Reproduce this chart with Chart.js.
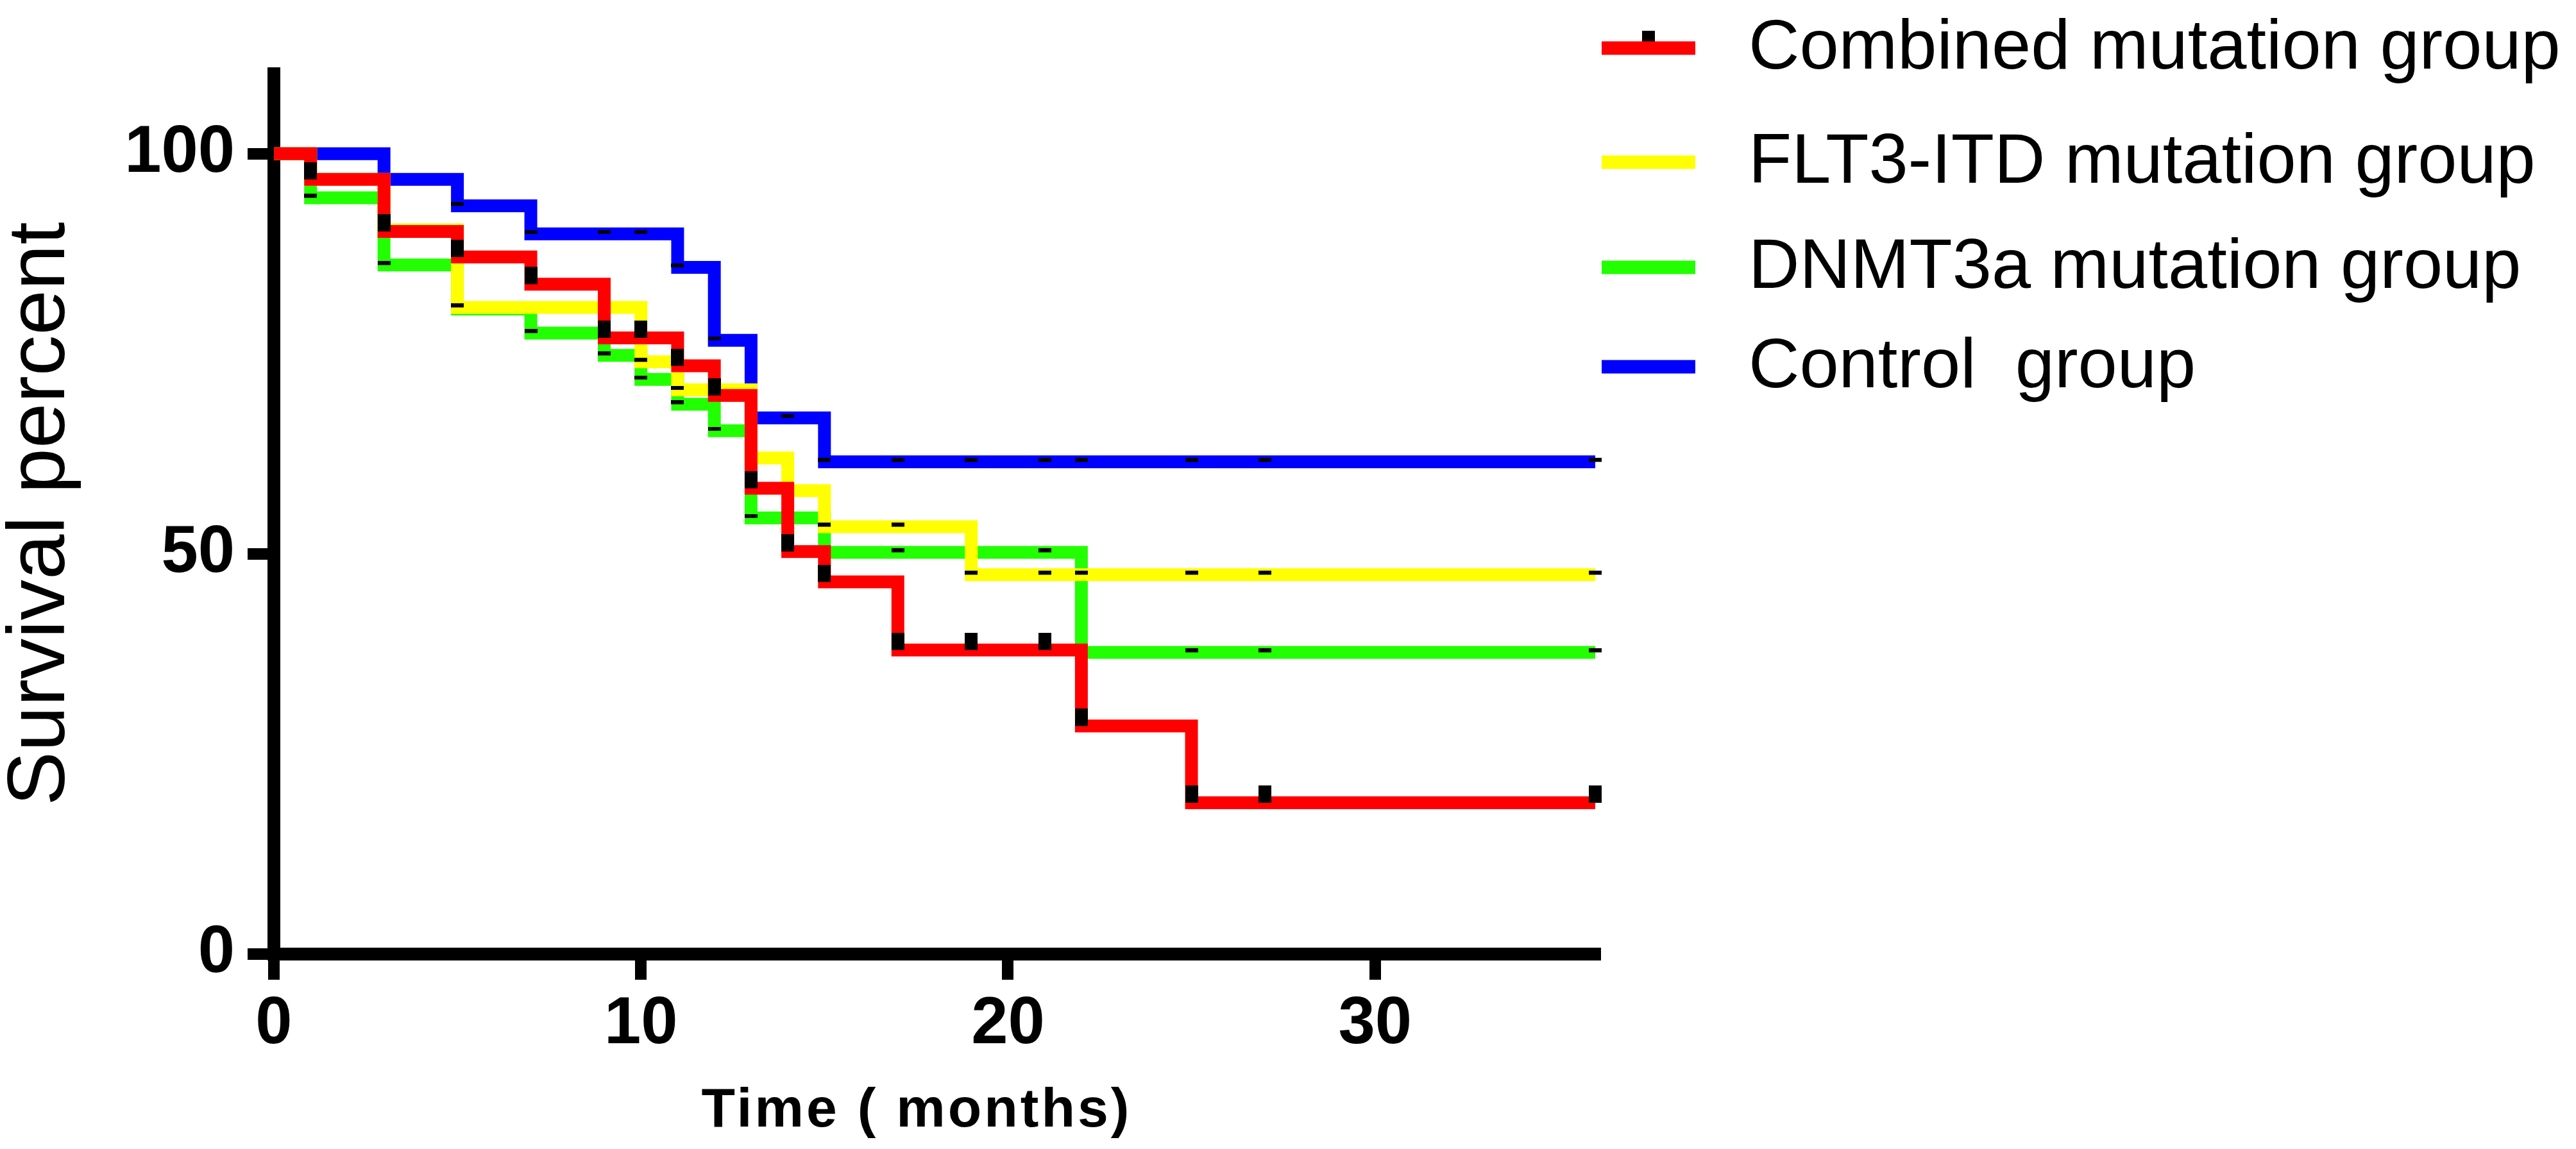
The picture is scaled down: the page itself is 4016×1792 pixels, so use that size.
<!DOCTYPE html>
<html><head><meta charset="utf-8">
<script src="https://cdn.jsdelivr.net/npm/chart.js@4.4.1/dist/chart.umd.min.js"></script>
<style>html,body{margin:0;padding:0;background:#fff;}canvas{display:block;}</style>
</head><body>
<canvas id="c" width="4016" height="1792" style="width:4016px;height:1792px"></canvas>
<script>
// ---- data ----
const seriesNames = ['Combined mutation group', 'FLT3-ITD mutation group', 'DNMT3a mutation group', 'Control  group'];
const seriesColors = ['#ff0000', '#ffff00', '#22ff00', '#0000ff'];

const combinedTime = [0, 1, 3, 5, 7, 9, 11, 12, 13, 14, 15, 17, 22, 25, 36];
const combinedSurv = [100, 96.8, 90.3, 87.1, 83.7, 77.0, 73.5, 69.8, 58.2, 50.3, 46.5, 38.0, 28.5, 18.9, 18.9];
const combinedCensored = [1, 3, 5, 7, 9, 10, 11, 12, 13, 14, 15, 17, 19, 21, 22, 25, 27, 36];

const flt3Time = [0, 1, 3, 5, 10, 11, 13, 14, 15, 19, 36];
const flt3Surv = [100, 96.8, 90.5, 80.8, 74.0, 70.5, 62.0, 57.9, 53.4, 47.4, 47.4];
const flt3Censored = [5, 10, 11, 15, 17, 19, 21, 22, 25, 27, 36];

const dnmt3aTime = [0, 1, 3, 5, 7, 9, 10, 11, 12, 13, 15, 22, 36];
const dnmt3aSurv = [100, 94.5, 86.1, 80.6, 77.6, 74.8, 71.8, 68.7, 65.4, 54.5, 50.2, 37.7, 37.7];
const dnmt3aCensored = [1, 3, 7, 9, 10, 11, 12, 13, 17, 21, 25, 27, 36];

const controlTime = [0, 3, 5, 7, 11, 12, 13, 15, 36];
const controlSurv = [100, 96.8, 93.5, 90.0, 85.8, 76.7, 67.0, 61.5, 61.5];
const controlCensored = [5, 7, 9, 10, 11, 12, 14, 15, 17, 19, 21, 22, 25, 27, 36];

const xTickValues = [0, 10, 20, 30];
const yTickValues = [0, 50, 100];
const xTitle = 'Time ( months)';
const yTitle = 'Survival percent';

// ---- helpers ----
const SANS = "'Liberation Sans', Arial, Helvetica, sans-serif";
const NARROW = "'Liberation Sans Narrow', 'Arial Narrow', 'Liberation Sans', Arial, sans-serif";

function survAt(times, surv, t) {
  let v = surv[0];
  for (let i = 0; i < times.length; i++) { if (times[i] <= t) v = surv[i]; }
  return v;
}
function makeTick(w, h) {
  const c = document.createElement('canvas');
  c.width = w; c.height = 2 * h;
  const g = c.getContext('2d');
  g.fillStyle = '#000';
  g.fillRect(0, 0, w, h);
  return c;
}
const bigTick = makeTick(20, 27);
const smallTick = makeTick(20, 6);

function lineDs(label, t, s, color) {
  return {
    type: 'line', label: label,
    data: t.map((x, i) => ({ x: x, y: s[i] })),
    borderColor: color, backgroundColor: color, borderWidth: 20,
    stepped: 'before', pointRadius: 0, fill: false, tension: 0,
    borderJoinStyle: 'miter', borderCapStyle: 'butt', clip: false, order: 1
  };
}
function censorDs(t, s, cens, img) {
  return {
    type: 'scatter', label: '',
    data: cens.map(c => ({ x: c, y: survAt(t, s, c) })),
    pointStyle: img, pointRadius: 10, pointHoverRadius: 10, showLine: false,
    borderWidth: 0, backgroundColor: '#000', clip: false, order: 0
  };
}

const legendPlugin = {
  id: 'kmLegend',
  afterDraw(chart) {
    const ctx = chart.ctx;
    const centers = [75, 253, 417, 572];
    const x0 = 2497, x1 = 2643, h = 21, textX = 2726;
    ctx.save();
    for (let i = 0; i < seriesNames.length; i++) {
      const cy = centers[i];
      if (i === 0) ctx.drawImage(bigTick, (x0 + x1) / 2 - 10, cy - 27);
      ctx.fillStyle = seriesColors[i];
      ctx.fillRect(x0, cy - h / 2, x1 - x0, h);
      ctx.fillStyle = '#000';
      ctx.font = 'normal 110px ' + SANS;
      ctx.textAlign = 'left';
      ctx.textBaseline = 'middle';
      ctx.fillText(seriesNames[i], textX, cy + 2);
    }
    // x-axis title (letter-spaced, as in the reference)
    const xs = chart.scales.x;
    ctx.font = 'bold 86px ' + SANS;
    ctx.textAlign = 'center';
    ctx.textBaseline = 'alphabetic';
    if ('letterSpacing' in ctx) ctx.letterSpacing = '4px';
    ctx.fillText(xTitle, (xs.left + xs.right) / 2 - 28, 1757);
    if ('letterSpacing' in ctx) ctx.letterSpacing = '0px';
    ctx.restore();
  }
};

const gridOpts = (len) => ({
  display: true, drawOnChartArea: false, drawTicks: true,
  tickLength: len, tickWidth: 18, lineWidth: 18, color: '#000', tickColor: '#000'
});

new Chart(document.getElementById('c'), {
  type: 'line',
  data: {
    datasets: [
      censorDs(combinedTime, combinedSurv, combinedCensored, bigTick),
      censorDs(flt3Time, flt3Surv, flt3Censored, smallTick),
      censorDs(dnmt3aTime, dnmt3aSurv, dnmt3aCensored, smallTick),
      censorDs(controlTime, controlSurv, controlCensored, smallTick),
      lineDs(seriesNames[0], combinedTime, combinedSurv, seriesColors[0]),
      lineDs(seriesNames[1], flt3Time, flt3Surv, seriesColors[1]),
      lineDs(seriesNames[2], dnmt3aTime, dnmt3aSurv, seriesColors[2]),
      lineDs(seriesNames[3], controlTime, controlSurv, seriesColors[3])
    ]
  },
  options: {
    responsive: false, devicePixelRatio: 1, animation: false, events: [],
    layout: { padding: { left: 0, right: 1529, top: 115, bottom: 0 } },
    plugins: { legend: { display: false }, tooltip: { enabled: false }, title: { display: false } },
    scales: {
      x: {
        type: 'linear', position: 'bottom', min: 0, max: 36,
        afterBuildTicks: s => { s.ticks = xTickValues.map(v => ({ value: v })); },
        afterFit: s => { s.height = 304; },
        grid: gridOpts(40),
        border: { display: true, color: '#000', width: 20 },
        ticks: { color: '#000', padding: 9, autoSkip: false, maxRotation: 0,
                 font: { family: NARROW, size: 103, weight: 'bold', lineHeight: 1.2 } },
        title: { display: false, text: xTitle }
      },
      y: {
        type: 'linear', position: 'left', min: 0, max: 110,
        afterBuildTicks: s => { s.ticks = yTickValues.map(v => ({ value: v })); },
        afterFit: s => { s.width = 427; },
        grid: gridOpts(41),
        border: { display: true, color: '#000', width: 20 },
        ticks: { color: '#000', padding: 20,
                 font: { family: NARROW, size: 103, weight: 'bold', lineHeight: 1.2 } },
        title: { display: true, text: yTitle, color: '#000',
                 font: { family: SANS, size: 127, weight: 'normal', lineHeight: 1 },
                 padding: { top: 1, bottom: 0 } }
      }
    }
  },
  plugins: [legendPlugin]
});
</script>
</body></html>
